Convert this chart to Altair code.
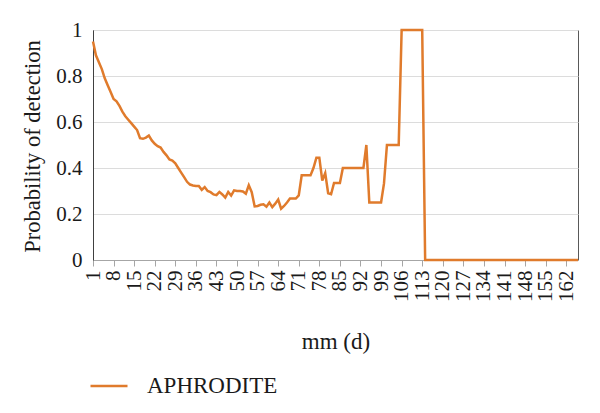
import altair as alt
import pandas as pd

days = list(range(1, 167))
prob = [
    0.95, 0.89, 0.86, 0.83, 0.79, 0.76, 0.73, 0.70, 0.69, 0.67,
    0.645, 0.625, 0.61, 0.595, 0.58, 0.565, 0.53, 0.527, 0.532, 0.541,
    0.52, 0.505, 0.495, 0.489, 0.47, 0.455, 0.437, 0.432, 0.42, 0.40,
    0.38, 0.36, 0.34, 0.328, 0.324, 0.322, 0.322, 0.305, 0.317, 0.30,
    0.295, 0.285, 0.282, 0.296, 0.285, 0.271, 0.296, 0.28, 0.303, 0.30,
    0.30, 0.298, 0.288, 0.325, 0.295, 0.233, 0.235, 0.24, 0.242, 0.232,
    0.25, 0.23, 0.245, 0.263, 0.223, 0.235, 0.25, 0.267, 0.267, 0.267,
    0.281, 0.368, 0.368, 0.368, 0.368, 0.40, 0.445, 0.445, 0.345, 0.378,
    0.29, 0.286, 0.335, 0.335, 0.335, 0.40, 0.40, 0.40, 0.40, 0.40,
    0.40, 0.40, 0.40, 0.50, 0.25, 0.25, 0.25, 0.25, 0.25, 0.333,
    0.50, 0.50, 0.50, 0.50, 0.50, 1.0, 1.0, 1.0, 1.0, 1.0,
    1.0, 1.0, 1.0, 0.0, 0.0, 0.0, 0.0, 0.0, 0.0, 0.0,
    0.0, 0.0, 0.0, 0.0, 0.0, 0.0, 0.0, 0.0, 0.0, 0.0,
    0.0, 0.0, 0.0, 0.0, 0.0, 0.0, 0.0, 0.0, 0.0, 0.0,
    0.0, 0.0, 0.0, 0.0, 0.0, 0.0, 0.0, 0.0, 0.0, 0.0,
    0.0, 0.0, 0.0, 0.0, 0.0, 0.0, 0.0, 0.0, 0.0, 0.0,
    0.0, 0.0, 0.0, 0.0, 0.0, 0.0,
]
x_ticks = [1, 8, 15, 22, 29, 36, 43, 50, 57, 64, 71, 78, 85, 92, 99, 106,
           113, 120, 127, 134, 141, 148, 155, 162]
y_ticks = [0, 0.2, 0.4, 0.6, 0.8, 1]
series_name = "APHRODITE"

df = pd.DataFrame({"day": days, "p": prob, "series": series_name})

FONT = "Liberation Serif"
TXT = "#1a1a1a"

chart = (
    alt.Chart(df)
    .mark_line(strokeWidth=2.5)
    .encode(
        x=alt.X(
            "day:Q",
            scale=alt.Scale(domain=[1, 166], nice=False, zero=False),
            axis=alt.Axis(
                title="mm (d)",
                values=x_ticks,
                labelAngle=-90,
                labelPadding=4,
                tickSize=6,
                tickColor="#a6a6a6",
                domainColor="#a6a6a6",
                grid=False,
                labelFont=FONT,
                labelFontSize=21,
                labelColor=TXT,
                titleFont=FONT,
                titleFontSize=23,
                titleFontWeight="normal",
                titleColor=TXT,
                titleBaseline="alphabetic",
                titleY=88,
                labelOverlap=False,
            ),
        ),
        y=alt.Y(
            "p:Q",
            scale=alt.Scale(domain=[0, 1], nice=False),
            axis=alt.Axis(
                title="Probability of detection",
                values=y_ticks,
                format=".1~f",
                ticks=False,
                labelPadding=11,
                domainColor="#404040",
                grid=True,
                gridColor="#dcdcdc",
                labelFont=FONT,
                labelFontSize=21,
                labelColor=TXT,
                titleFont=FONT,
                titleFontSize=22.5,
                titleFontWeight="normal",
                titleColor=TXT,
                titleBaseline="alphabetic",
                titleX=-54,
                titleY=116,
            ),
        ),
        color=alt.Color(
            "series:N",
            scale=alt.Scale(range=["#E07B2C"]),
            legend=alt.Legend(
                title=None,
                orient="none",
                legendX=-4,
                legendY=336,
                symbolType="stroke",
                symbolSize=1369,
                symbolStrokeWidth=2.5,
                labelFont=FONT,
                labelFontSize=23,
                labelColor=TXT,
                labelOffset=18,
                padding=0,
            ),
        ),
    )
    .properties(
        width=485,
        height=230,
        padding={"left": 85, "top": 22, "right": 10, "bottom": 145},
        autosize="none",
    )
    .configure_view(stroke="#595959", strokeWidth=1)
)

chart.save("out.html", embed_options={"renderer": "svg", "actions": False})
